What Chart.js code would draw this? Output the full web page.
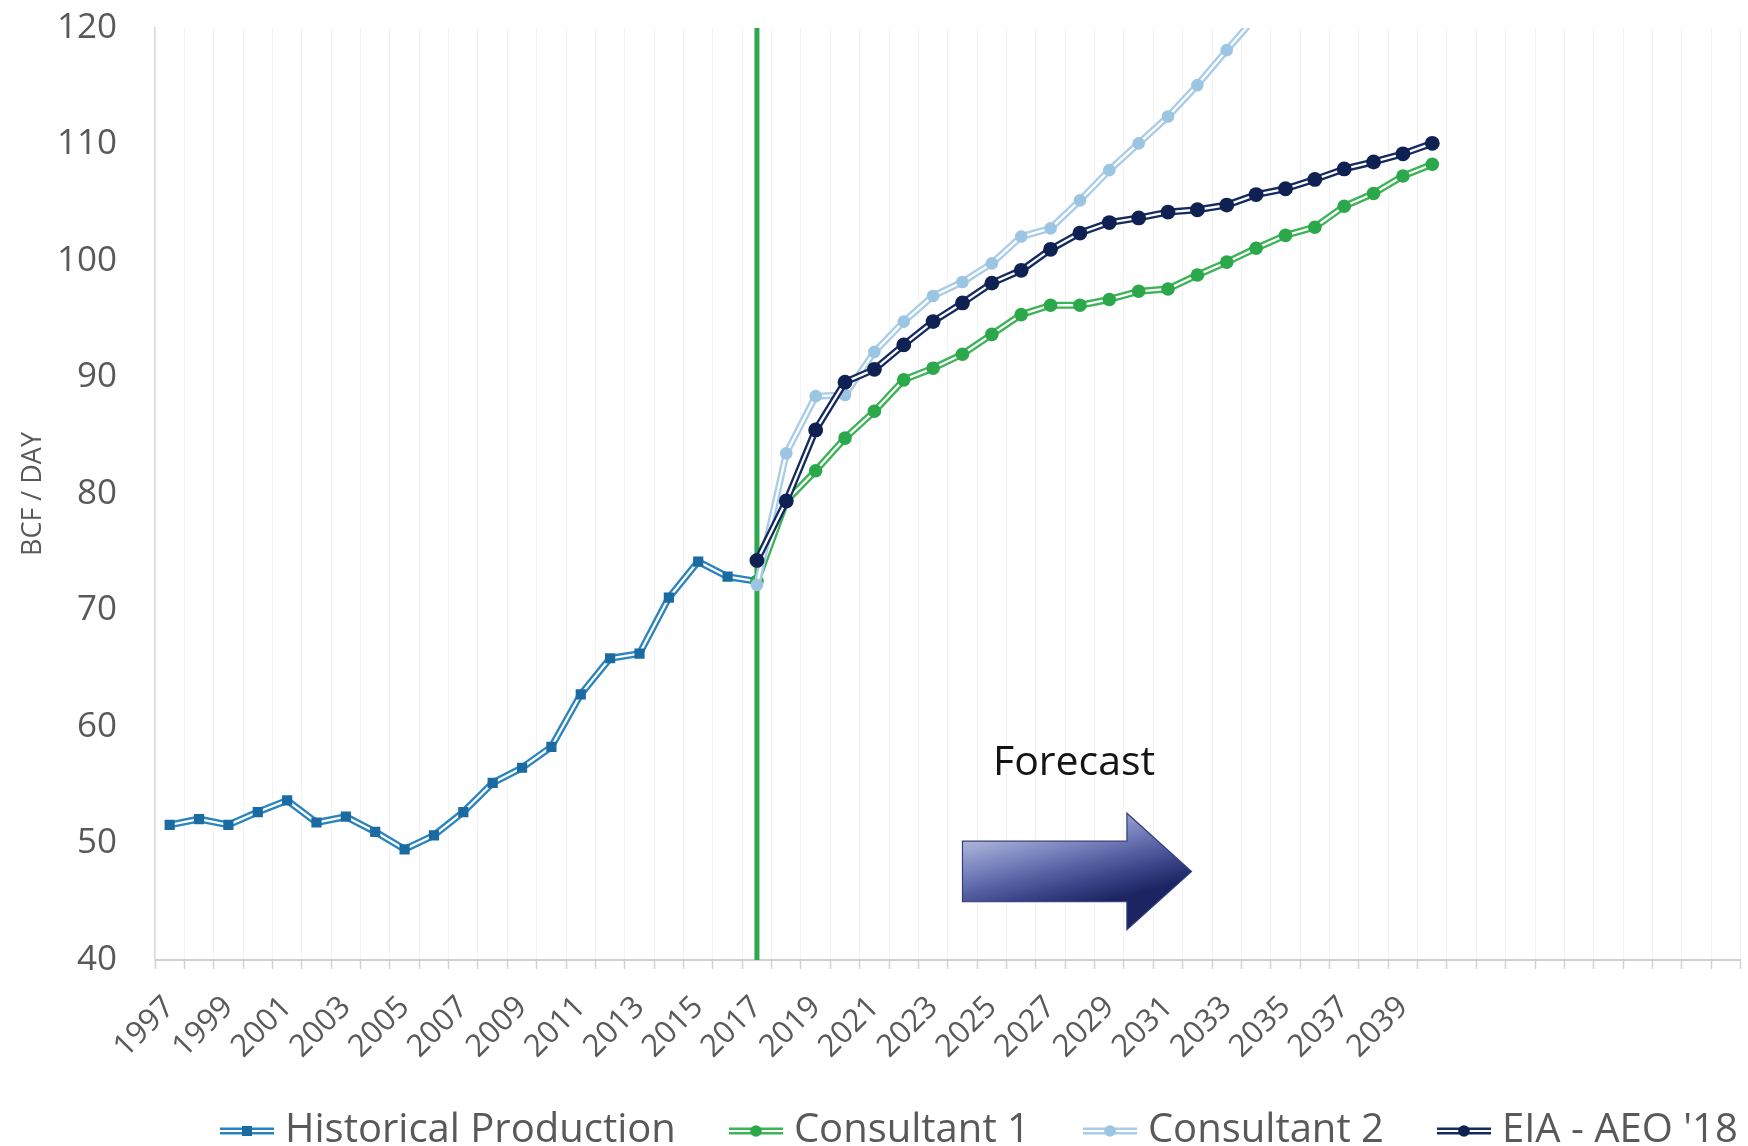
<!DOCTYPE html>
<html>
<head>
<meta charset="utf-8">
<script src="https://cdn.jsdelivr.net/npm/chart.js@4.4.1/dist/chart.umd.min.js"></script>
<style>
  html, body { margin: 0; padding: 0; background: #ffffff; overflow: hidden; }
  #wrap { width: 1748px; height: 1146px; position: relative; }
</style>
</head>
<body>
<div id="wrap"><canvas id="c"></canvas></div>
<script>
// ---------------- DATA ----------------
const categories = ['1997','1998','1999','2000','2001','2002','2003','2004','2005','2006',
  '2007','2008','2009','2010','2011','2012','2013','2014','2015','2016','2017','2018',
  '2019','2020','2021','2022','2023','2024','2025','2026','2027','2028','2029','2030',
  '2031','2032','2033','2034','2035','2036','2037','2038','2039','2040','2041','2042',
  '2043','2044','2045','2046','2047','2048','2049','2050'];
const shownTickLabels = ['1997','1999','2001','2003','2005','2007','2009','2011','2013',
  '2015','2017','2019','2021','2023','2025','2027','2029','2031','2033','2035','2037','2039'];
const yTicks = [40, 50, 60, 70, 80, 90, 100, 110, 120];

// Historical Production, 1997-2017
const historicalStart = 1997;
const historical = [51.6, 52.1, 51.6, 52.7, 53.7, 51.8, 52.3, 51.0, 49.5, 50.7,
  52.7, 55.2, 56.5, 58.3, 62.8, 65.9, 66.3, 71.1, 74.2, 72.9, 72.5];
// Consultant 1, 2017-2040
const consultant1Start = 2017;
const consultant1 = [72.5, 79.4, 82.0, 84.8, 87.1, 89.8, 90.8, 92.0, 93.7, 95.4, 96.2, 96.2,
  96.7, 97.4, 97.6, 98.8, 99.9, 101.1, 102.2, 102.9, 104.7, 105.8, 107.3, 108.3];
// Consultant 2, 2017-2034 (leaves the top of the plot after 2033)
const consultant2Start = 2017;
const consultant2 = [72.2, 83.5, 88.4, 88.5, 92.2, 94.8, 97.0, 98.2, 99.8, 102.1, 102.8,
  105.2, 107.8, 110.1, 112.4, 115.1, 118.1, 121.0];
// EIA - AEO '18, 2017-2040
const eiaStart = 2017;
const eia = [74.3, 79.4, 85.5, 89.6, 90.7, 92.8, 94.8, 96.4, 98.1, 99.2, 101.0, 102.4,
  103.3, 103.7, 104.2, 104.4, 104.8, 105.7, 106.2, 107.0, 107.9, 108.5, 109.2, 110.1];

const seriesLabels = ['Historical Production', 'Consultant 1', 'Consultant 2', "EIA - AEO '18"];
const dividerYear = '2017';
const forecastText = 'Forecast';

// ---------------- STYLE ----------------
const STYLES = [
  { line: '#2a84bd', marker: '#1a6ba2', point: 'rect',   radius: 7.2 },
  { line: '#3db357', marker: '#2aa84a', point: 'circle', radius: 6.8 },
  { line: '#a9cde9', marker: '#9cc4e3', point: 'circle', radius: 6.3 },
  { line: '#142a60', marker: '#0e2152', point: 'circle', radius: 7.4 }
];
const FONT = "'Open Sans', 'Noto Sans', 'DejaVu Sans', sans-serif";
const TEXT = '#595959';
// annotation anchors in scale units (category index / value)
const FORECAST_POS = { x: 30.8, y: 56.9 };
const ARROW = { x0: 27.0, x1: 32.6, x2: 34.8, yMid: 47.6, bodyHalf: 2.6, headHalf: 5.0 };

function pad(start, vals) {
  return categories.map(c => {
    const i = Number(c) - start;
    return (i >= 0 && i < vals.length) ? vals[i] : null;
  });
}
const seriesData = [
  pad(historicalStart, historical),
  pad(consultant1Start, consultant1),
  pad(consultant2Start, consultant2),
  pad(eiaStart, eia)
];

function legendIcon(st) {
  const c = document.createElement('canvas');
  c.width = 54; c.height = 20;
  const g = c.getContext('2d');
  g.lineCap = 'butt';
  g.strokeStyle = st.line; g.lineWidth = 7;
  g.beginPath(); g.moveTo(0, 10); g.lineTo(54, 10); g.stroke();
  g.strokeStyle = '#ffffff'; g.lineWidth = 2.2;
  g.beginPath(); g.moveTo(0, 10); g.lineTo(54, 10); g.stroke();
  g.fillStyle = st.marker;
  if (st.point === 'rect') { g.fillRect(27 - 5, 10 - 5, 10, 10); }
  else { g.beginPath(); g.arc(27, 10, 5.8, 0, Math.PI * 2); g.fill(); }
  return c;
}
const icons = STYLES.map(legendIcon);

const datasets = [];
seriesData.forEach((d, k) => {
  const st = STYLES[k];
  const lvl = 3 - k;
  datasets.push({
    label: seriesLabels[k], data: d,
    borderColor: st.line, backgroundColor: st.line, borderWidth: 7,
    borderJoinStyle: 'round', pointRadius: 0, pointHoverRadius: 0,
    fill: false, tension: 0, order: 2 * lvl + 2,
    clip: { left: 12, right: 12, top: 0, bottom: 12 }
  });
  datasets.push({
    label: '_overlay', data: d,
    borderColor: '#ffffff', borderWidth: 2.3, borderJoinStyle: 'round',
    pointStyle: st.point, pointRadius: st.radius, pointHoverRadius: st.radius,
    pointBackgroundColor: st.marker, pointBorderWidth: 0,
    fill: false, tension: 0, order: 2 * lvl + 1,
    clip: { left: 12, right: 12, top: 0, bottom: 12 }
  });
});

// ---------------- PLUGINS ----------------
const dividerPlugin = {
  id: 'divider',
  beforeDatasetsDraw(chart) {
    const { ctx, chartArea } = chart;
    const x = chart.scales.x.getPixelForValue(categories.indexOf(dividerYear));
    ctx.save();
    ctx.strokeStyle = '#2fa84d';
    ctx.lineWidth = 5;
    ctx.beginPath();
    ctx.moveTo(x, chartArea.top);
    ctx.lineTo(x, chartArea.bottom);
    ctx.stroke();
    ctx.restore();
  }
};

const forecastPlugin = {
  id: 'forecast',
  afterDatasetsDraw(chart) {
    const { ctx } = chart;
    const xs = chart.scales.x, ys = chart.scales.y;
    const X0 = xs.getPixelForValue(ARROW.x0), X1 = xs.getPixelForValue(ARROW.x1), X2 = xs.getPixelForValue(ARROW.x2);
    const YM = ys.getPixelForValue(ARROW.yMid);
    const BT = ys.getPixelForValue(ARROW.yMid + ARROW.bodyHalf), BB = ys.getPixelForValue(ARROW.yMid - ARROW.bodyHalf);
    const HT = ys.getPixelForValue(ARROW.yMid + ARROW.headHalf), HB = ys.getPixelForValue(ARROW.yMid - ARROW.headHalf);
    ctx.save();
    const grad = ctx.createLinearGradient(X0, HT, X0 + (HB - HT) * 0.25, HB);
    grad.addColorStop(0, '#d6daee');
    grad.addColorStop(0.3, '#a0a8d3');
    grad.addColorStop(0.55, '#6c76b4');
    grad.addColorStop(0.8, '#3b4589');
    grad.addColorStop(1, '#1d2462');
    ctx.fillStyle = grad;
    ctx.strokeStyle = '#343d7c';
    ctx.lineWidth = 1.2;
    ctx.beginPath();
    ctx.moveTo(X0, BT); ctx.lineTo(X1, BT); ctx.lineTo(X1, HT); ctx.lineTo(X2, YM);
    ctx.lineTo(X1, HB); ctx.lineTo(X1, BB); ctx.lineTo(X0, BB); ctx.closePath();
    ctx.fill(); ctx.stroke();
    ctx.fillStyle = '#141414';
    ctx.font = "41px " + FONT;
    ctx.textAlign = 'center'; ctx.textBaseline = 'middle';
    ctx.fillText(forecastText, xs.getPixelForValue(FORECAST_POS.x), ys.getPixelForValue(FORECAST_POS.y));
    ctx.restore();
  }
};

// Place the legend row like the (cropped) original: starting at the left, running off the right edge
const LEGEND_START = 229;   // x of first legend box
const LEGEND_MID_Y = 1131;  // vertical centre of legend text
const LEGEND_FONT = 40;
const LEGEND_PAD = 62;
const legendPlacer = {
  id: 'legendPlacer',
  beforeDraw(chart) {
    const lg = chart.legend;
    if (!lg) return;
    lg.left = LEGEND_START - LEGEND_PAD;
    lg.right = chart.width + 2000;
    lg.top = LEGEND_MID_Y - LEGEND_PAD - LEGEND_FONT / 2;
    lg.bottom = chart.height + 200;
  }
};

// ---------------- CHART ----------------
new Chart(document.getElementById('c'), {
  type: 'line',
  data: { labels: categories, datasets },
  plugins: [dividerPlugin, forecastPlugin, legendPlacer],
  options: {
    responsive: true,
    maintainAspectRatio: false,
    animation: false,
    events: [],
    layout: { padding: { top: 28, right: 0, bottom: 0, left: 0 } },
    plugins: {
      title: { display: false },
      tooltip: { enabled: false },
      legend: {
        display: true,
        position: 'bottom',
        align: 'start',
        maxHeight: 30,
        labels: {
          usePointStyle: true,
          pointStyleWidth: 36,
          padding: LEGEND_PAD,
          color: TEXT,
          font: { family: FONT, size: LEGEND_FONT },
          generateLabels: () => seriesLabels.map((t, k) => ({
            text: t, pointStyle: icons[k], fillStyle: STYLES[k].line,
            strokeStyle: STYLES[k].line, lineWidth: 0, hidden: false,
            datasetIndex: 2 * k, fontColor: TEXT
          }))
        }
      }
    },
    scales: {
      x: {
        type: 'category',
        offset: true,
        grid: {
          display: true, offset: true, color: '#f3f3f3', lineWidth: 1,
          drawTicks: true, tickLength: 9, tickColor: '#d2d2d2', tickWidth: 1.5
        },
        border: { display: true, color: '#d0d0d0', width: 2 },
        ticks: {
          autoSkip: false, maxRotation: 45, minRotation: 45, padding: 20,
          color: TEXT, font: { family: FONT, size: 31 },
          callback: function (v, i) {
            const lab = categories[i];
            return shownTickLabels.includes(lab) ? lab : '';
          }
        },
        afterFit: function (s) {
          const lgH = s.chart.legend ? s.chart.legend.height : 0;
          s.height = Math.max(10, s.chart.height - 960 - lgH);
          s.paddingLeft = 0; s.paddingRight = 0;
        }
      },
      y: {
        min: yTicks[0], max: yTicks[yTicks.length - 1],
        afterBuildTicks: function (s) { s.ticks = yTicks.map(v => ({ value: v })); },
        grid: { display: false, drawTicks: false },
        border: { display: true, color: '#dadada', width: 1.5 },
        ticks: { padding: 38, color: TEXT, font: { family: FONT, size: 35 } },
        title: {
          display: true, text: 'BCF / DAY', color: TEXT,
          font: { family: FONT, size: 27 }, padding: { top: 17, bottom: 0 }
        },
        afterFit: function (s) { s.width = 155; s.paddingTop = 0; s.paddingBottom = 0; }
      }
    }
  }
});
</script>
</body>
</html>
